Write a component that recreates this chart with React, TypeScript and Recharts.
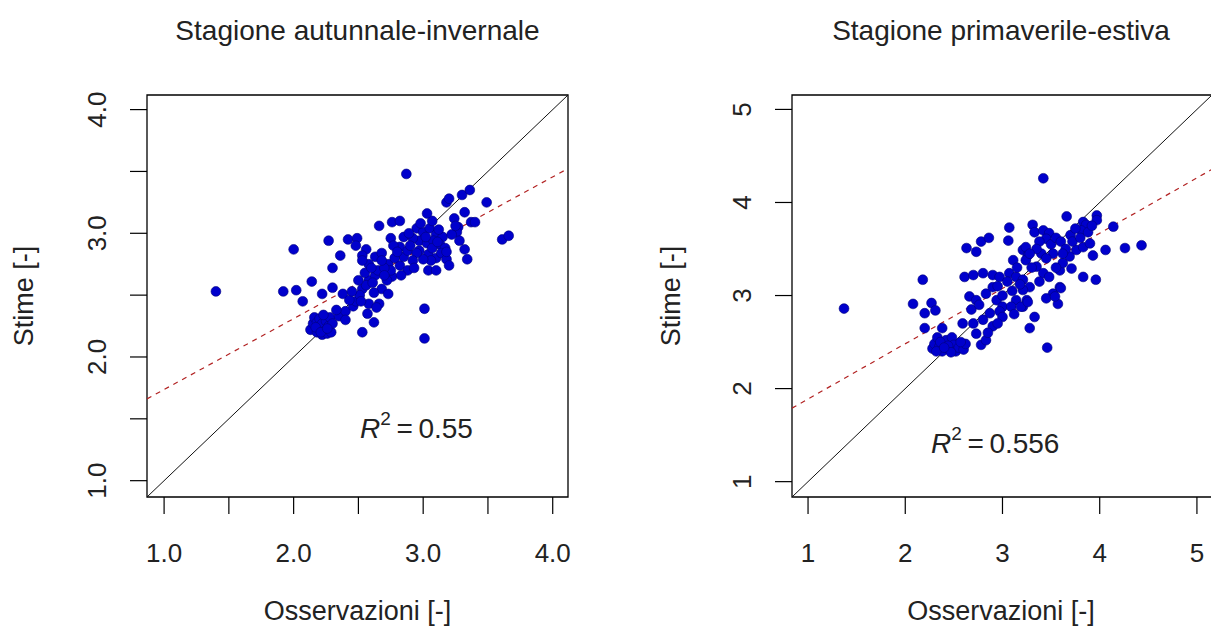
import React from "react";
import {
  ScatterChart,
  Scatter,
  XAxis,
  YAxis,
  ReferenceLine,
  ReferenceArea,
} from "recharts";

// autumn-winter season: observed vs estimated
const obsAut = [
  1.40, 1.92, 2.00, 2.02, 2.07, 2.14, 2.27, 2.22, 2.30, 2.30, 2.36, 2.42, 2.49, 2.48, 2.56, 2.53,
  2.66, 2.76, 2.82, 2.75, 2.85, 2.87, 2.53, 2.62, 3.01, 3.01,
  2.13, 2.15, 2.16, 2.18, 2.18, 2.20, 2.20, 2.22, 2.22, 2.24, 2.25, 2.26, 2.27, 2.28, 2.29, 2.30,
  2.17, 2.23, 2.21, 2.26,
  2.35, 2.40, 2.46, 2.48, 2.58, 2.66, 2.38, 2.53, 2.58, 2.63, 2.68, 2.73, 2.76, 2.58, 2.53, 2.63,
  2.68, 2.73, 2.75, 2.82, 2.85, 2.82, 2.88, 2.77, 2.33, 2.43, 2.51, 2.56, 2.61, 2.65, 2.70, 2.72,
  2.55, 2.60, 2.68, 2.78, 2.80, 2.62, 2.70, 2.45, 2.50, 2.57, 2.64, 2.52, 2.40,
  2.95, 3.00, 3.05, 3.10, 3.15, 2.97, 3.03, 3.08, 3.13, 3.17, 2.97, 3.04, 3.10, 3.06, 3.00, 3.04,
  3.10, 2.95, 2.92, 2.88, 2.83, 2.92, 2.98, 3.07, 3.12, 2.90, 3.02, 3.14, 2.93, 3.07, 2.89, 3.11,
  3.03, 3.18, 3.20, 3.30, 3.36, 3.49, 3.32, 3.27, 3.26, 3.37, 3.40, 3.28, 3.32, 3.34, 3.18, 3.20,
  3.61, 3.66, 3.18, 3.22, 3.24, 3.25,
];
const stimAut = [
  2.53, 2.53, 2.87, 2.54, 2.45, 2.61, 2.94, 2.51, 2.56, 2.72, 2.82, 2.95, 2.96, 2.90, 2.87, 2.82,
  3.06, 3.09, 3.10, 2.96, 2.97, 3.48, 2.20, 2.28, 2.15, 2.39,
  2.22, 2.27, 2.32, 2.20, 2.28, 2.24, 2.31, 2.18, 2.27, 2.21, 2.29, 2.19, 2.25, 2.32, 2.20, 2.27,
  2.24, 2.34, 2.20, 2.23,
  2.33, 2.37, 2.41, 2.45, 2.43, 2.43, 2.51, 2.55, 2.62, 2.66, 2.55, 2.51, 2.65, 2.75, 2.78, 2.81,
  2.84, 2.75, 2.70, 2.74, 2.81, 2.89, 2.86, 2.90, 2.38, 2.46, 2.50, 2.58, 2.60, 2.70, 2.72, 2.62,
  2.68, 2.72, 2.78, 2.80, 2.85, 2.52, 2.66, 2.53, 2.62, 2.35, 2.40, 2.45, 2.30,
  3.04, 3.01, 3.04, 2.99, 2.97, 2.94, 2.92, 2.94, 2.91, 2.88, 2.86, 2.83, 2.80, 2.78, 2.79, 2.70,
  2.70, 2.84, 2.78, 2.70, 2.66, 2.96, 3.08, 3.10, 3.03, 2.90, 2.97, 2.84, 2.72, 2.88, 3.00, 2.93,
  3.16, 3.25, 3.28, 3.31, 3.35, 3.25, 3.17, 3.05, 3.01, 3.09, 3.09, 2.94, 2.87, 2.79, 2.79, 2.74,
  2.95, 2.98, 2.85, 2.99, 3.12, 3.06,
];

// spring-summer season
const obsPrim = [
  1.37, 2.08, 2.18, 2.20, 2.27, 2.31, 2.20, 2.38,
  2.28, 2.30, 2.33, 2.35, 2.38, 2.40, 2.42, 2.45, 2.48, 2.50, 2.52, 2.55, 2.60, 2.62, 2.36, 2.44,
  2.32, 2.47, 2.57, 2.40,
  2.63, 2.73, 2.78, 2.86, 3.07, 3.06, 3.31, 3.33, 3.42, 3.48, 3.45, 3.38, 3.42,
  3.66, 3.83, 3.86, 3.81, 3.97, 3.97, 4.14, 4.06, 4.26, 4.43, 3.93,
  3.71, 3.83, 3.96, 3.59, 3.52, 3.45, 3.57, 3.46, 3.33, 3.28,
  3.11, 3.21, 3.26, 3.24,
  3.35, 3.42, 3.48, 3.59, 3.62, 3.69, 3.76, 3.83, 3.90,
  2.61, 2.70, 2.80, 2.90, 2.97, 3.07, 3.14, 3.21,
  2.66, 2.73, 2.83, 2.90, 2.94, 3.00, 3.14, 3.21, 3.28, 3.21,
  2.59, 2.70, 2.80, 2.87, 2.97, 2.73, 2.78, 2.83, 2.90, 3.00, 3.09,
  3.50, 3.55, 3.60, 3.70, 3.75, 3.65, 3.52, 3.40, 3.30, 3.18, 3.10, 3.00, 2.95, 3.05, 3.15,
  3.35, 3.45, 3.55, 3.62, 3.72, 3.80, 3.88, 3.92, 2.85, 2.95, 3.12, 3.25, 3.38, 2.68, 2.76,
  3.54, 3.60, 3.19, 3.26, 3.24, 3.28,
];
const stimPrim = [
  2.86, 2.91, 3.17, 2.81, 2.92, 2.84, 2.65, 2.65,
  2.43, 2.48, 2.55, 2.45, 2.40, 2.50, 2.52, 2.42, 2.55, 2.47, 2.40, 2.44, 2.42, 2.48, 2.50, 2.46,
  2.40, 2.39, 2.50, 2.44,
  3.51, 3.47, 3.58, 3.62, 3.73, 3.59, 3.76, 3.68, 3.70, 3.67, 3.61, 3.58, 4.26,
  3.85, 3.79, 3.76, 3.70, 3.86, 3.81, 3.74, 3.49, 3.51, 3.54, 3.43,
  3.29, 3.20, 3.17, 3.09, 3.02, 2.97, 2.91, 2.44, 2.77, 2.65,
  3.38, 3.49, 3.43, 3.38,
  3.31, 3.24, 3.20, 3.27, 3.35, 3.42, 3.49, 3.52, 3.56,
  3.20, 3.22, 3.24, 3.22, 3.20, 3.24, 3.20, 3.17,
  2.99, 2.95, 3.02, 3.09, 2.95, 2.88, 2.95, 2.88, 3.09, 3.06,
  2.70, 2.70, 2.74, 2.81, 2.83, 2.59, 2.47, 2.52, 2.67, 2.77, 2.88,
  3.55, 3.62, 3.58, 3.65, 3.72, 3.50, 3.45, 3.45, 3.30, 3.12, 3.05, 3.00, 3.10, 3.15, 3.30,
  3.50, 3.40, 3.30, 3.45, 3.58, 3.62, 3.68, 3.75, 2.60, 2.70, 2.80, 2.95, 3.15, 2.85, 2.90,
  2.99, 3.08, 2.88, 2.93, 3.52, 3.45,
];

// linear fits (dashed lines)
const fitAut = { intercept: 1.164, slope: 0.573 };
const fitPrim = { intercept: 1.294, slope: 0.594 };

const ticksAut = [1, 1.5, 2, 2.5, 3, 3.5, 4];
const ticksPrim = [1, 2, 3, 4, 5];

const FONT = "Arial, 'Liberation Sans', sans-serif";
const TXT = "#222";

function Dot(props: any) {
  return <circle cx={props.cx} cy={props.cy} r={4.9} fill="#0000cc" stroke="#00007a" strokeWidth={0.6} />;
}

function makeXTick(decimals: number) {
  return function XTick(props: any) {
    const { x, y, payload } = props;
    const v = payload.value;
    if (Math.abs(v - Math.round(v)) > 1e-6) return null;
    return (
      <text x={x} y={y} textAnchor="middle" fontSize={26} fill={TXT} fontFamily={FONT}>
        {v.toFixed(decimals)}
      </text>
    );
  };
}

function makeYTick(decimals: number) {
  return function YTick(props: any) {
    const { x, y, payload } = props;
    const v = payload.value;
    if (Math.abs(v - Math.round(v)) > 1e-6) return null;
    return (
      <text
        x={x}
        y={y}
        transform={`rotate(-90 ${x} ${y})`}
        textAnchor="middle"
        fontSize={26}
        fill={TXT}
        fontFamily={FONT}
      >
        {v.toFixed(decimals)}
      </text>
    );
  };
}

function Panel({
  obs,
  stim,
  fit,
  domain,
  ticks,
  decimals,
  width,
  margin,
}: {
  obs: number[];
  stim: number[];
  fit: { intercept: number; slope: number };
  domain: [number, number];
  ticks: number[];
  decimals: number;
  width: number;
  margin: { top: number; right: number; bottom: number; left: number };
}) {
  const data = obs.map((x, i) => ({ x, y: stim[i] }));
  const [lo, hi] = domain;
  return (
    <ScatterChart width={width} height={643} margin={margin}>
      <XAxis
        type="number"
        dataKey="x"
        domain={domain}
        ticks={ticks}
        allowDataOverflow
        axisLine={false}
        tickLine={{ stroke: "#000", strokeWidth: 1.2 }}
        tickSize={17}
        height={60}
        tick={makeXTick(decimals)}
        tickMargin={48}
      />
      <YAxis
        type="number"
        dataKey="y"
        domain={domain}
        ticks={ticks}
        allowDataOverflow
        axisLine={false}
        tickLine={{ stroke: "#000", strokeWidth: 1.2 }}
        tickSize={17}
        width={60}
        tick={makeYTick(decimals)}
        tickMargin={24}
      />
      <ReferenceArea x1={lo} x2={hi} y1={lo} y2={hi} fill="none" stroke="#000" strokeWidth={1.3} fillOpacity={0} />
      <ReferenceLine
        segment={[
          { x: lo, y: lo },
          { x: hi, y: hi },
        ]}
        stroke="#111"
        strokeWidth={1}
      />
      <ReferenceLine
        segment={[
          { x: lo, y: fit.intercept + fit.slope * lo },
          { x: hi, y: fit.intercept + fit.slope * hi },
        ]}
        stroke="#b22222"
        strokeWidth={1.2}
        strokeDasharray="5 5"
      />
      <Scatter data={data} shape={<Dot />} isAnimationActive={false} />
    </ScatterChart>
  );
}

export default function App() {
  return (
    <div
      style={{
        position: "absolute",
        left: 0,
        top: 0,
        width: 1211,
        height: 643,
        overflow: "hidden",
        background: "#fff",
        fontFamily: FONT,
      }}
    >
      <div style={{ position: "absolute", left: 0, top: 0 }}>
        <Panel
          obs={obsAut}
          stim={stimAut}
          fit={fitAut}
          domain={[0.868, 4.118]}
          ticks={ticksAut}
          decimals={1}
          width={605}
          margin={{ top: 95, right: 37, bottom: 86, left: 87 }}
        />
      </div>
      <div style={{ position: "absolute", left: 605, top: 0 }}>
        <Panel
          obs={obsPrim}
          stim={stimPrim}
          fit={fitPrim}
          domain={[0.835, 5.155]}
          ticks={ticksPrim}
          decimals={0}
          width={607}
          margin={{ top: 95, right: 0, bottom: 86, left: 127 }}
        />
      </div>
      <svg
        width={1211}
        height={643}
        style={{ position: "absolute", left: 0, top: 0, pointerEvents: "none" }}
        fontFamily={FONT}
        fill={TXT}
      >
        <text x={357.5} y={40} textAnchor="middle" fontSize={28}>Stagione autunnale-invernale</text>
        <text x={1001} y={40} textAnchor="middle" fontSize={28}>Stagione primaverile-estiva</text>
        <text x={357.5} y={620} textAnchor="middle" fontSize={27}>Osservazioni [-]</text>
        <text x={1001} y={620} textAnchor="middle" fontSize={27}>Osservazioni [-]</text>
        <text x={33} y={296} textAnchor="middle" fontSize={27} transform="rotate(-90 33 296)">Stime [-]</text>
        <text x={680} y={296} textAnchor="middle" fontSize={27} transform="rotate(-90 680 296)">Stime [-]</text>
        <text x={360} y={438} fontSize={28}>
          <tspan fontStyle="italic">R</tspan>
          <tspan dy={-13} fontSize={19}>2</tspan>
          <tspan dy={13}>{"\u2009=\u20090.55"}</tspan>
        </text>
        <text x={931} y={453} fontSize={28}>
          <tspan fontStyle="italic">R</tspan>
          <tspan dy={-13} fontSize={19}>2</tspan>
          <tspan dy={13}>{"\u2009=\u20090.556"}</tspan>
        </text>
      </svg>
    </div>
  );
}
